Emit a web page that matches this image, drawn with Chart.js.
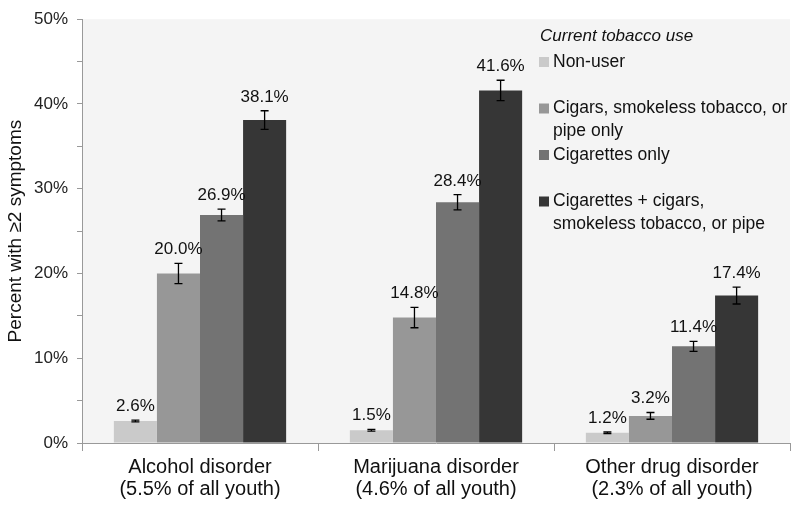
<!DOCTYPE html>
<html lang="en">
<head>
    <meta charset="UTF-8">
    <title>Tobacco use and substance use disorder symptoms</title>
    <script src="https://cdn.jsdelivr.net/npm/chart.js"></script>
    <style>
        body { margin: 0; background-color: #fff; }
        #wrap { width: 800px; height: 508px; }
    </style>
</head>
<body>
    <div id="wrap">
        <canvas id="tobaccoChart" width="800" height="508"></canvas>
    </div>

    <script>
        // --- Data ---
        const categories = [
            ['Alcohol disorder', '(5.5% of all youth)'],
            ['Marijuana disorder', '(4.6% of all youth)'],
            ['Other drug disorder', '(2.3% of all youth)']
        ];
        const legendTitle = 'Current tobacco use';
        const seriesLines = [
            ['Non-user'],
            ['Cigars, smokeless tobacco, or', 'pipe only'],
            ['Cigarettes only'],
            ['Cigarettes + cigars,', 'smokeless tobacco, or pipe']
        ];
        const nonUser = [2.6, 1.5, 1.2];
        const cigarsOnly = [20.0, 14.8, 3.2];
        const cigarettesOnly = [26.9, 28.4, 11.4];
        const cigarettesPlus = [38.1, 41.6, 17.4];
        // half-width of the error bars (percentage points)
        const nonUserErr = [0.1, 0.1, 0.1];
        const cigarsOnlyErr = [1.2, 1.2, 0.4];
        const cigarettesOnlyErr = [0.7, 0.9, 0.6];
        const cigarettesPlusErr = [1.1, 1.2, 1.0];
        const yTicks = [0, 10, 20, 30, 40, 50];

        const seriesColors = ['#cacaca', '#979797', '#737373', '#363636'];
        const FONT = "'Liberation Sans', Arial, sans-serif";

        const seriesValues = [nonUser, cigarsOnly, cigarettesOnly, cigarettesPlus];
        const seriesErrors = [nonUserErr, cigarsOnlyErr, cigarettesOnlyErr, cigarettesPlusErr];

        // gray plot area
        const plotBackground = {
            id: 'plotBackground',
            beforeDraw(chart) {
                const { ctx, chartArea: a } = chart;
                ctx.save();
                ctx.fillStyle = '#f4f4f4';
                ctx.fillRect(a.left, a.top, a.right - a.left, a.bottom - a.top);
                ctx.restore();
            }
        };

        // error bars + value labels on top of them
        const errorBars = {
            id: 'errorBars',
            afterDatasetsDraw(chart) {
                const { ctx } = chart;
                const y = chart.scales.y;
                ctx.save();
                chart.data.datasets.forEach((ds, di) => {
                    const meta = chart.getDatasetMeta(di);
                    meta.data.forEach((bar, i) => {
                        const v = ds.data[i];
                        const e = seriesErrors[di][i];
                        const top = y.getPixelForValue(v + e);
                        const bot = y.getPixelForValue(v - e);
                        ctx.strokeStyle = '#000';
                        ctx.lineWidth = 1.3;
                        ctx.beginPath();
                        ctx.moveTo(bar.x, top); ctx.lineTo(bar.x, bot);
                        ctx.moveTo(bar.x - 4, top); ctx.lineTo(bar.x + 4, top);
                        ctx.moveTo(bar.x - 4, bot); ctx.lineTo(bar.x + 4, bot);
                        ctx.stroke();

                        ctx.fillStyle = '#111';
                        ctx.font = '17px ' + FONT;
                        ctx.textAlign = 'center';
                        ctx.textBaseline = 'alphabetic';
                        ctx.fillText(v.toFixed(1) + '%', bar.x, top - 9);
                    });
                });
                ctx.restore();
            }
        };

        // legend drawn inside the plot, top right
        const insideLegend = {
            id: 'insideLegend',
            afterDraw(chart) {
                const { ctx } = chart;
                const x0 = 540;
                ctx.save();
                ctx.fillStyle = '#111';
                ctx.textAlign = 'left';
                ctx.textBaseline = 'middle';
                ctx.font = 'italic 17px ' + FONT;
                ctx.fillText(legendTitle, x0, 36);
                ctx.font = '17.5px ' + FONT;
                let yc = 62;
                seriesLines.forEach((lines, i) => {
                    ctx.fillStyle = seriesColors[i];
                    ctx.fillRect(x0 - 1, yc - 5, 10, 10);
                    ctx.fillStyle = '#111';
                    lines.forEach((t, j) => ctx.fillText(t, x0 + 13, yc + j * 23));
                    yc += 46.5;
                });
                ctx.restore();
            }
        };

        new Chart(document.getElementById('tobaccoChart'), {
            type: 'bar',
            data: {
                labels: categories,
                datasets: seriesValues.map((vals, i) => ({
                    label: seriesLines[i].join(' '),
                    data: vals,
                    backgroundColor: seriesColors[i],
                    borderWidth: 0,
                    categoryPercentage: 0.73,
                    barPercentage: 1.0
                }))
            },
            options: {
                responsive: false,
                devicePixelRatio: 1,
                animation: false,
                layout: { padding: { top: 15, right: 10, left: 0, bottom: 0 } },
                plugins: {
                    legend: { display: false },
                    tooltip: { enabled: false }
                },
                scales: {
                    x: {
                        grid: { offset: true, drawOnChartArea: false, tickLength: 8, color: '#999' },
                        border: { color: '#999' },
                        ticks: {
                            autoSkip: false, maxRotation: 0, padding: 5,
                            color: '#111',
                            font: { family: FONT, size: 20, lineHeight: 1.1 }
                        },
                        afterFit(scale) { scale.height = 65; }
                    },
                    y: {
                        min: 0, max: 50,
                        grid: { drawOnChartArea: false, tickLength: 5, color: '#999' },
                        border: { color: '#999' },
                        ticks: {
                            stepSize: 5, padding: 9, color: '#222',
                            font: { family: FONT, size: 17 },
                            callback: v => yTicks.includes(v) ? v + '%' : ''
                        },
                        title: {
                            display: true,
                            text: 'Percent with \u22652 symptoms',
                            color: '#111',
                            font: { family: FONT, size: 19 },
                            padding: { top: 4, bottom: 0 }
                        },
                        afterFit(scale) { scale.width = 82; }
                    }
                }
            },
            plugins: [plotBackground, errorBars, insideLegend]
        });
    </script>
</body>
</html>
